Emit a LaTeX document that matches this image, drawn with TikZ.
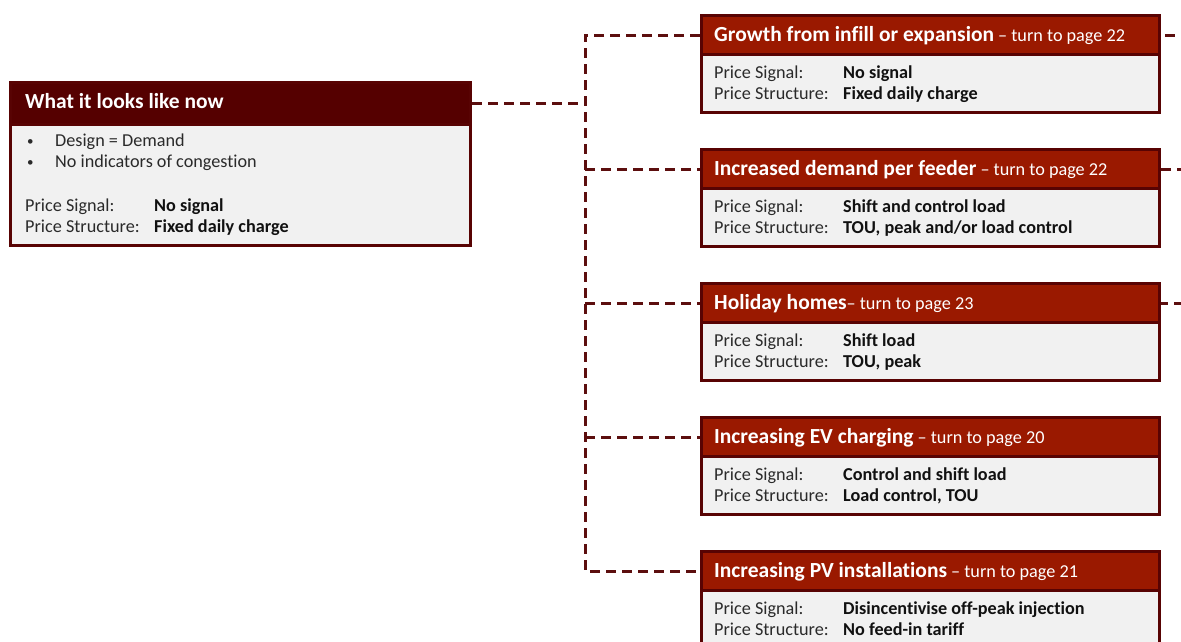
\documentclass[tikz,border=0pt]{standalone}
\usepackage{fontspec}
\setmainfont{Carlito}[Ligatures={TeX,NoCommon}]

\definecolor{hdrdark}{HTML}{550000}
\definecolor{hdrred}{HTML}{9A1900}
\definecolor{frame}{HTML}{580303}
\definecolor{bodyfill}{HTML}{F1F1F1}
\definecolor{linkcol}{HTML}{5C0E0E}
\definecolor{labelgrey}{HTML}{2A2A2A}
\definecolor{valueblack}{HTML}{111111}

\tikzset{
  panel/.style={draw=frame, line width=3pt, anchor=north west, inner sep=0pt},
  hdrbox/.style={panel, fill=hdrred, minimum width=458pt, minimum height=39pt},
  bodybox/.style={panel, fill=bodyfill, minimum width=458pt, minimum height=58pt},
  titletext/.style={anchor=base west, inner sep=0pt, text=white,
    font=\fontsize{21.5}{22}\selectfont\bfseries},
  labeltext/.style={anchor=base west, inner sep=0pt, text=labelgrey,
    font=\fontsize{18.2}{19}\selectfont},
  valuetext/.style={anchor=base west, inner sep=0pt, text=valueblack,
    font=\fontsize{18.2}{19}\selectfont\bfseries},
  bulletmark/.style={labeltext, font=\fontsize{13}{13}\selectfont},
  link/.style={draw=linkcol, line width=3pt, dash pattern=on 10pt off 6pt},
}
\newcommand{\pagenote}[1]{{\mdseries\fontsize{18.2}{19}\selectfont #1}}

\begin{document}
\begin{tikzpicture}[x=1pt,y=-1pt]
\useasboundingbox (0,0) rectangle (1181,641);

% current state panel
\node[bodybox, minimum width=460pt, minimum height=121pt] (lb) at (9,123) {};
\node[hdrbox, fill=hdrdark, minimum width=460pt, minimum height=42pt] (lh) at (9,81) {};
\node[titletext] (lt) at (25,108) {What it looks like now};
\node[bulletmark] (lb1) at (27,145) {•};
\node[labeltext] (lb1t) at (55,146) {Design = Demand};
\node[bulletmark] (lb2) at (27,166) {•};
\node[labeltext] (lb2t) at (55,167) {No indicators of congestion};
\node[labeltext] (ll1) at (25,211) {Price Signal:};
\node[valuetext] (lv1) at (154,211) {No signal};
\node[labeltext] (ll2) at (25,232) {Price Structure:};
\node[valuetext] (lv2) at (154,232) {Fixed daily charge};

% scenario panels
\foreach \i/\y/\title/\note/\sig/\struct in {
  1/14/{Growth from infill or expansion}/{ – turn to page 22}/{No signal}/{Fixed daily charge},
  2/148/{Increased demand per feeder}/{ – turn to page 22}/{Shift and control load}/{TOU, peak and/or load control},
  3/282/{Holiday homes}/{– turn to page 23}/{Shift load}/{TOU, peak},
  4/416/{Increasing EV charging}/{ – turn to page 20}/{Control and shift load}/{Load control, TOU},
  5/550/{Increasing PV installations}/{ – turn to page 21}/{Disincentivise off-peak injection}/{No feed-in tariff}}{
  \node[bodybox] (b\i) at (700,\y+39) {};
  \node[hdrbox] (h\i) at (700,\y) {};
  \node[titletext] (t\i) at (714,\y+27) {\title\pagenote{\note}};
  \node[labeltext] (s\i) at (714,\y+64) {Price Signal:};
  \node[valuetext] (sv\i) at (843,\y+64) {\sig};
  \node[labeltext] (p\i) at (714,\y+85.5) {Price Structure:};
  \node[valuetext] (pv\i) at (843,\y+85.5) {\struct};
}

% dashed tree connecting the panels
\coordinate (jn) at (lh.east -| 585,0);
\coordinate (edge) at (1181,0);
\draw[link] (lh.east) -- (jn);
\draw[link] (h1.west) -| (jn) |- (h5.west);
\draw[link] (jn |- h2.west) -- (h2.west);
\draw[link] (jn |- h3.west) -- (h3.west);
\draw[link] (jn |- h4.west) -- (h4.west);

% links leaving to the right
\draw[link, dash phase=12pt] (h1.east) -- (h1.east -| edge);
\draw[link] (h2.east) -- (h2.east -| edge);
\draw[link, dash phase=3pt] (h3.east) -- (h3.east -| edge);
\end{tikzpicture}
\end{document}
